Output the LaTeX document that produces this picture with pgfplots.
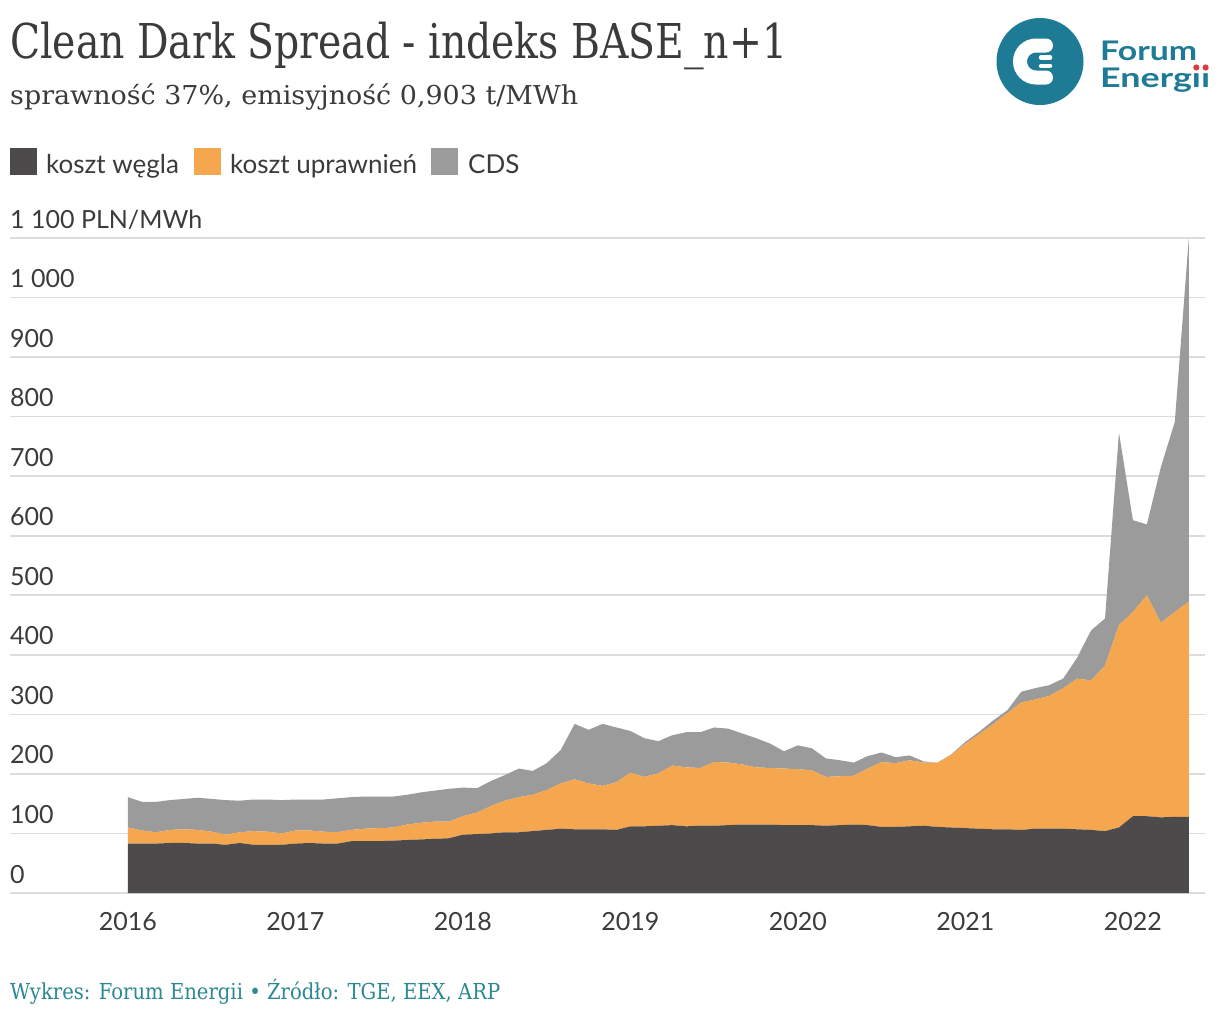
\documentclass[border=0pt]{standalone}
\usepackage{fontspec}
\usepackage{graphicx}
\usepackage{pgfplots}
\pgfplotsset{compat=1.18}
\usepackage{pgfplotstable}
\setmainfont{Lato}
\newfontfamily\slab{DejaVu Serif}
\definecolor{coal}{HTML}{4D4A4B}
\definecolor{eua}{HTML}{F4A74E}
\definecolor{cds}{HTML}{9B9B9B}
\definecolor{gridc}{HTML}{DCDCDC}
\definecolor{txt}{HTML}{3B3B3B}
\definecolor{fteal}{HTML}{2C8893}
\definecolor{logoc}{HTML}{1D7B95}
\definecolor{logored}{HTML}{E03A3E}

\pgfplotstableread{
m coal eua cds
0 83 27 51
1 83 22 48
2 83 19 51
3 84 22 50
4 84 23 51
5 83 23 54
6 83 20 55
7 81 17 58
8 84 18 53
9 81 23 53
10 81 22 54
11 81 19 56
12 83 22 52
13 84 21 52
14 83 20 54
15 83 19 57
16 87 19 55
17 87 21 54
18 87 22 53
19 88 22 52
20 89 26 50
21 90 28 51
22 91 29 52
23 92 28 55
24 98 31 48
25 99 36 41
26 100 46 42
27 102 53 43
28 102 59 48
29 104 61 40
30 106 67 45
31 108 76 56
32 107 84 93
33 107 77 90
34 107 73 104
35 106 80 92
36 112 90 70
37 112 83 65
38 113 88 54
39 114 100 51
40 112 99 59
41 113 97 60
42 113 107 58
43 114 105 57
44 115 101 52
45 115 96 49
46 115 95 41
47 114 95 29
48 114 94 40
49 114 92 37
50 113 82 31
51 114 82 27
52 115 82 22
53 114 95 21
54 111 109 16
55 111 107 10
56 112 111 8
57 113 106 2
58 111 108 0
59 110 122 1
60 109 142 3
61 108 159 4
62 107 177 6
63 107 195 5
64 106 214 18
65 108 217 19
66 108 223 18
67 108 236 16
68 107 253 35
69 106 251 84
70 104 278 79
71 110 340 323
72 129 343 154
73 129 371 119
74 127 327 261
75 128 344 319
76 128 361 609
}\data

\begin{document}
\begin{tikzpicture}[x=1pt,y=1pt]
\fill[white] (0,0) rectangle (1220,-1020);

% title and subtitle
\node[anchor=base west, inner sep=0pt, text=txt] at (10,-58)
  {\resizebox{777pt}{\height}{\slab\fontsize{48}{48}\selectfont Clean Dark Spread - indeks BASE\_n+1}};
\node[anchor=base west, inner sep=0pt, text=txt] at (10,-104)
  {\resizebox{568pt}{\height}{\slab\fontsize{26}{26}\selectfont sprawność 37\%, emisyjność 0,903 t/MWh}};

% legend
\fill[coal] (10,-148) rectangle (37,-175);
\node[anchor=base west, inner sep=0pt, text=txt] at (46,-173) {\fontsize{26}{26}\selectfont koszt węgla};
\fill[eua] (194,-148) rectangle (221,-175);
\node[anchor=base west, inner sep=0pt, text=txt] at (230,-173) {\fontsize{26}{26}\selectfont koszt uprawnień};
\fill[cds] (431,-148) rectangle (458,-175);
\node[anchor=base west, inner sep=0pt, text=txt] at (468,-173) {\fontsize{26}{26}\selectfont CDS};

% logo
\fill[logoc] (1040,-61.5) circle (43.5);
\draw[white, line width=14pt, line cap=round] (1046,-45.5) -- (1036,-45.5) arc (90:270:16) -- (1046,-77.5);
\draw[white, line width=4.5pt, line cap=round] (1041,-57.5) -- (1050,-57.5);
\draw[white, line width=4.5pt, line cap=round] (1041,-66) -- (1050,-66);
\node[anchor=base west, inner sep=0pt, text=logoc] at (1100,-60)
  {\resizebox{97pt}{\height}{\fontsize{27}{27}\selectfont\bfseries Forum}};
\node[anchor=base west, inner sep=0pt, text=logoc] at (1100,-87)
  {\resizebox{110pt}{\height}{\fontsize{27}{27}\selectfont\bfseries Energıı}};
\fill[logored] (1196.3,-67.5) circle (3.1);
\fill[logored] (1205.6,-67.5) circle (3.1);

% footer
\node[anchor=base west, inner sep=0pt, text=fteal] at (10,-999)
  {\resizebox{490pt}{\height}{\slab\fontsize{22}{22}\selectfont Wykres: Forum Energii • Źródło: TGE, EEX, ARP}};

\begin{axis}[
  at={(10pt,-893pt)}, anchor=south west,
  scale only axis, width=1195pt, height=655pt,
  xmin=-8.454, xmax=77.16, ymin=0, ymax=1100,
  stack plots=y,
  axis line style={draw=none},
  tick style={draw=none},
  major tick length=0pt,
  ymajorgrids, grid style={color=gridc, line width=1.6pt},
  ytick={0,100,...,1100},
  yticklabels={0,100,200,300,400,500,600,700,800,900,1 000,1 100 PLN/MWh},
  yticklabel style={anchor=base west, inner sep=0pt, xshift=0pt, yshift=10pt,
    font=\fontsize{25}{25}\selectfont, text=txt},
  xtick={0,12,...,72},
  xticklabels={2016,2017,2018,2019,2020,2021,2022},
  xticklabel style={anchor=base, inner sep=0pt, yshift=-37pt,
    font=\fontsize{25}{25}\selectfont, text=txt},
]
\addplot[fill=coal, draw=none] table[x=m,y=coal]{\data} \closedcycle;
\addplot[fill=eua, draw=none] table[x=m,y=eua]{\data} \closedcycle;
\addplot[fill=cds, draw=none] table[x=m,y=cds]{\data} \closedcycle;
\end{axis}
\end{tikzpicture}
\end{document}
